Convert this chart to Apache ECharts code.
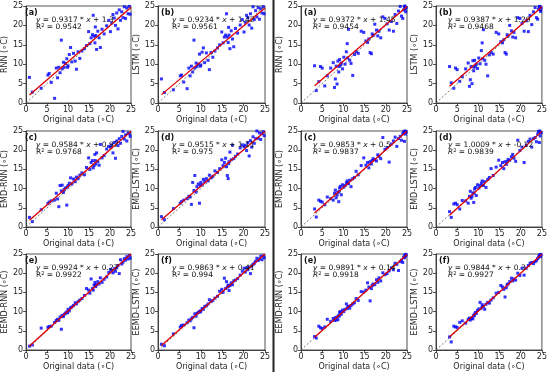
<!DOCTYPE html>
<html><head><meta charset="utf-8">
<script src="https://cdn.jsdelivr.net/npm/echarts/dist/echarts.min.js"></script>
<style>html,body{margin:0;padding:0;background:#fff}#c{width:550px;height:372px}</style>
</head><body><div id="c"></div><script>
// ---------- data ----------
const leftOriginal = [0.8,1.5,3.6,5.2,5.5,6.0,6.8,7.2,7.5,7.8,8.1,8.4,8.6,8.9,9.1,9.4,9.7,10.0,10.3,10.6,10.9,11.3,11.7,12.0,12.4,12.8,13.3,13.9,14.4,14.9,15.2,15.5,15.8,16.0,16.2,16.4,16.6,16.8,17.1,17.4,17.7,18.1,18.6,19.2,19.7,20.1,20.4,20.7,21.0,21.3,21.6,21.9,22.2,22.5,22.8,23.1,23.4,23.7,24.0,24.3,24.6,24.8,9.9,16.5];
const leftRNN = [6.6,2.8,3.8,7.2,7.6,5.3,1.2,9.0,6.5,9.2,7.8,16.2,8.8,10.5,9.2,10.2,11.4,9.6,12.5,14.3,10.6,12.8,10.8,8.7,13.2,11.5,13.4,14.0,14.8,18.4,15.3,16.8,17.6,22.6,17.2,15.5,17.4,13.8,18.5,16.8,14.3,19.0,17.8,19.9,21.3,18.4,20.6,22.8,21.9,20.0,23.2,19.1,24.0,21.3,23.5,22.0,24.8,21.8,24.5,23.0,24.9,22.9,9.2,19.6];
const leftLSTM = [6.2,2.7,3.4,7.0,7.2,5.4,3.7,9.0,7.0,9.5,8.0,16.2,9.0,10.3,9.4,10.0,12.6,9.8,13.1,14.2,10.4,12.9,11.0,8.6,13.0,11.8,13.4,14.2,15.0,18.3,15.5,17.0,17.5,23.0,17.0,15.6,17.5,14.0,18.6,16.5,14.5,19.2,18.0,20.1,21.5,18.3,20.8,22.6,22.0,20.1,23.0,19.3,24.8,21.5,23.8,22.2,24.6,21.6,24.3,23.2,24.8,23.0,9.5,19.5];
const leftEMDRNN = [2.5,1.4,4.5,6.1,6.5,6.8,7.0,8.8,7.3,5.3,10.8,9.4,10.9,9.0,9.8,10.2,5.7,10.8,11.4,12.8,11.2,12.5,11.8,13.0,12.6,13.5,14.1,13.6,15.5,18.0,15.0,16.8,17.3,15.4,16.0,18.9,16.4,19.3,17.0,16.1,21.5,18.0,18.6,20.3,21.0,20.8,21.4,19.3,22.0,17.9,22.4,21.2,23.0,21.8,23.6,24.9,22.9,24.0,22.4,24.5,24.3,23.6,10.4,17.3];
const leftEMDLSTM = [2.7,1.9,4.8,6.2,6.6,7.0,7.4,8.0,7.8,5.9,11.6,9.5,13.4,9.1,10.5,11.2,6.2,11.6,11.0,12.4,11.8,12.6,12.0,13.5,12.8,13.2,14.6,14.2,15.2,17.5,16.0,16.8,17.9,15.7,13.4,12.6,17.0,19.5,17.5,21.3,17.8,18.4,19.0,20.6,21.4,20.9,21.3,19.9,22.0,18.5,22.5,20.8,23.5,21.8,23.0,25.0,23.1,24.5,22.8,24.3,24.8,23.8,10.8,16.5];
const leftEEMDRNN = [1.0,1.3,5.7,5.9,6.1,6.2,7.2,7.7,8.0,7.7,8.6,5.4,9.0,8.7,9.3,9.6,9.9,10.6,10.2,11.0,11.2,11.6,12.3,12.0,12.6,13.0,13.4,14.2,16.0,15.6,14.8,18.5,16.0,15.6,16.9,17.6,16.5,17.0,17.8,17.2,18.8,17.6,18.4,19.0,20.2,21.0,20.6,20.1,21.2,20.5,21.4,22.0,19.9,23.5,22.4,22.9,23.8,23.4,24.3,23.7,24.6,23.9,9.7,16.9];
const leftEEMDLSTM = [1.5,1.1,4.2,6.0,6.4,6.5,7.1,7.8,7.6,8.1,8.5,5.8,9.4,8.8,9.5,9.8,10.0,10.2,10.8,10.6,11.3,11.5,12.0,13.1,12.6,12.9,13.5,14.0,15.3,15.8,15.0,18.7,16.0,17.8,16.4,16.9,15.5,16.8,17.5,17.0,18.0,18.2,18.6,19.5,20.5,21.3,20.3,21.4,20.9,21.6,19.9,21.8,22.3,22.6,23.1,23.9,23.3,23.7,24.4,23.5,24.5,24.0,9.9,16.6];

const rightOriginal = [3.2,3.6,4.2,4.6,5.0,5.6,6.2,7.0,7.6,7.9,8.1,8.3,8.5,8.7,8.9,9.1,9.3,9.5,9.8,10.1,10.4,10.7,10.9,11.2,11.5,11.8,12.2,12.6,13.0,13.5,14.2,14.8,15.3,15.7,16.0,16.3,16.6,17.0,17.4,17.8,18.1,18.4,18.8,19.3,19.8,20.3,20.8,21.3,21.8,22.2,22.6,23.0,23.4,23.7,24.0,24.2,24.4,24.5,24.6,24.7,24.8,9.0,11.0,16.8];
const rightRNN = [9.6,3.2,5.5,9.4,9.0,4.4,7.0,9.0,10.4,4.0,6.2,9.5,4.9,10.8,8.0,11.2,9.8,10.3,8.8,11.8,10.0,13.2,15.3,19.0,11.0,10.2,7.1,12.5,13.2,12.8,18.5,18.2,16.0,15.6,16.5,13.0,12.7,17.4,20.3,18.8,17.3,18.5,16.8,22.2,21.8,20.4,18.8,21.0,18.5,22.8,20.5,23.7,24.9,22.4,21.8,24.0,24.8,25.0,24.2,23.5,24.6,9.4,11.6,17.8];
const rightLSTM = [9.4,5.2,3.8,9.0,8.6,5.6,6.8,8.8,10.3,4.3,6.0,9.4,5.0,10.9,8.3,11.0,9.5,10.0,8.9,11.6,10.1,13.5,15.5,18.9,11.0,10.0,7.0,12.4,13.0,12.6,18.2,17.8,15.8,15.5,16.3,13.0,12.6,17.2,20.0,18.6,17.0,18.2,16.8,22.0,21.8,20.5,18.5,21.2,18.4,22.6,20.2,23.5,24.6,22.0,21.6,24.2,24.8,24.9,24.0,23.6,24.5,9.2,11.4,17.6];
const rightEMDRNN = [4.7,2.6,7.0,6.7,6.5,5.8,7.8,7.4,7.0,8.8,9.6,7.6,8.3,9.0,6.6,10.2,10.6,8.4,11.0,10.4,10.8,11.5,12.0,11.3,12.2,10.5,12.6,12.9,14.5,13.6,16.0,18.0,16.1,16.8,15.4,17.0,16.4,17.8,17.5,17.2,18.8,18.4,17.8,23.3,20.2,20.7,16.9,21.6,22.4,23.4,21.0,23.0,23.6,22.6,24.3,24.8,22.3,25.0,24.2,24.6,24.9,9.3,11.3,17.3];
const rightEMDLSTM = [4.0,2.5,6.0,6.2,5.8,4.7,6.9,6.8,6.2,8.0,9.3,7.5,8.0,8.8,6.4,9.9,10.3,8.2,11.0,10.2,10.8,11.4,12.0,10.9,11.8,10.3,12.4,12.9,15.2,13.4,15.6,17.4,16.0,16.8,15.2,17.0,16.3,17.6,17.4,18.3,18.9,17.9,17.1,22.6,19.9,20.8,16.8,21.3,22.3,22.9,20.8,23.0,23.3,22.2,24.2,24.9,22.0,25.0,23.7,24.5,24.6,8.9,10.8,17.0];
const rightEEMDRNN = [3.5,3.1,6.2,5.8,5.6,6.0,8.0,7.4,8.2,7.7,8.4,7.8,8.6,7.9,9.0,9.8,10.0,9.3,10.4,10.0,10.6,12.0,10.8,11.4,10.9,11.6,12.0,12.3,13.4,12.9,15.2,15.1,15.6,17.5,16.4,12.8,16.0,17.2,17.0,18.3,17.6,18.8,18.0,20.1,19.6,19.9,20.6,21.4,20.9,22.6,22.3,20.7,23.0,23.4,22.8,24.2,24.0,24.8,24.4,24.6,24.9,8.8,11.2,16.8];
const rightEEMDLSTM = [3.4,2.1,6.2,6.0,5.9,7.2,7.6,7.0,8.0,8.3,7.8,8.2,8.4,8.1,9.0,9.3,9.8,9.5,10.3,10.7,12.4,10.9,11.8,11.4,10.6,11.9,12.4,12.2,13.0,13.6,14.8,15.0,16.8,16.4,15.8,13.8,16.2,17.2,17.8,18.7,18.0,18.5,18.2,20.0,19.4,21.3,19.5,21.3,22.0,22.6,22.8,22.5,23.0,23.3,23.8,24.2,24.6,24.8,24.3,24.5,24.9,8.9,11.3,17.0];

const panelLetters = ['(a)','(b)','(c)','(d)','(e)','(f)','(a)','(b)','(c)','(d)','(e)','(f)'];
const modelNames = ['RNN','LSTM','EMD-RNN','EMD-LSTM','EEMD-RNN','EEMD-LSTM'];
const slopeText = ['0.9317','0.9234','0.9584','0.9515','0.9924','0.9863','0.9372','0.9387','0.9853','1.0009','0.9891','0.9844'];
const interceptText = ['1.3','1.42','0.97','1.11','0.27','0.41','1.45','1.29','0.5','-0.12','0.14','0.3'];
const r2Text = ['0.9542','0.9561','0.9768','0.975','0.9922','0.994','0.9454','0.9468','0.9837','0.9839','0.9918','0.9927'];
const axisTicks = [0, 25, 5]; // min, max, interval
const xAxisName = 'Original data (\u2218C)';

// ---------- layout ----------
const colLeft = [22, 158, 301, 436];
const colWidth = [109, 107, 106, 107];
const rowTop = [6, 131, 254];
const rowHeight = [97, 96, 96];
const FONT = 'DejaVu Sans';
const INK = '#262626';

const leftY = [leftRNN, leftLSTM, leftEMDRNN, leftEMDLSTM, leftEEMDRNN, leftEEMDLSTM];
const rightY = [rightRNN, rightLSTM, rightEMDRNN, rightEMDLSTM, rightEEMDRNN, rightEEMDLSTM];

const grids = [], xAxes = [], yAxes = [], series = [], graphics = [];
for (let i = 0; i < 12; i++) {
  const grp = i < 6 ? 0 : 1;
  const k = i % 6;
  const row = Math.floor(k / 2), col = k % 2;
  const gl = colLeft[grp * 2 + col], gw = colWidth[grp * 2 + col];
  const gt = rowTop[row], gh = rowHeight[row];
  const xs = grp === 0 ? leftOriginal : rightOriginal;
  const ys = grp === 0 ? leftY[k] : rightY[k];
  grids.push({left: gl, top: gt, width: gw, height: gh, show: true, borderColor: INK, borderWidth: 0.8});
  const axCommon = {
    gridIndex: i, type: 'value', min: axisTicks[0], max: axisTicks[1], interval: axisTicks[2],
    nameLocation: 'middle',
    nameTextStyle: {fontSize: 8, color: INK, fontFamily: FONT},
    axisLine: {show: true, onZero: false, lineStyle: {color: INK, width: 0.8}},
    axisTick: {show: true, length: 3, lineStyle: {color: INK, width: 0.8}},
    axisLabel: {fontSize: 8, color: INK, margin: 3, fontFamily: FONT},
    splitLine: {show: false}
  };
  xAxes.push(Object.assign({}, axCommon, {name: xAxisName, nameGap: 13}));
  yAxes.push(Object.assign({}, axCommon, {name: modelNames[k] + ' (\u2218C)', nameGap: 12, nameRotate: 90}));
  series.push({
    type: 'scatter', xAxisIndex: i, yAxisIndex: i, symbol: 'rect', symbolSize: 3,
    itemStyle: {color: '#0000ff'}, data: xs.map((x, j) => [x, ys[j]]), z: 2
  });
  series.push({
    type: 'line', xAxisIndex: i, yAxisIndex: i, showSymbol: false, symbol: 'none',
    lineStyle: {color: '#555', width: 0.8, type: [2, 2]},
    data: [[axisTicks[0], axisTicks[0]], [axisTicks[1], axisTicks[1]]], z: 3
  });
  const a = parseFloat(slopeText[i]), b = parseFloat(interceptText[i]);
  const xmin = Math.min.apply(null, xs), xmax = axisTicks[1];
  series.push({
    type: 'line', xAxisIndex: i, yAxisIndex: i, showSymbol: false, symbol: 'none',
    lineStyle: {color: '#e00000', width: 1.3},
    data: [[xmin, a * xmin + b], [xmax, Math.min(axisTicks[1], a * xmax + b)]], z: 4
  });
  graphics.push({type: 'text', left: gl + 3, top: gt + 3, z: 10,
    style: {text: panelLetters[i], font: 'bold 8px "DejaVu Sans"', fill: '#111'}});
  graphics.push({type: 'text', left: gl + (grp === 0 ? 14 : 12), top: gt + 10, z: 10,
    style: {text: '{i|y} = ' + slopeText[i] + ' * {i|x} + ' + interceptText[i],
      font: '7.5px "DejaVu Sans"', fill: '#111',
      rich: {i: {fontStyle: 'italic', fontSize: 7.5, fontFamily: FONT, fill: '#111'}}}});
  graphics.push({type: 'text', left: gl + (grp === 0 ? 14 : 12), top: gt + 17, z: 10,
    style: {text: (grp === 0 ? 'R' : '{i|R}') + '{s|2} = ' + r2Text[i],
      font: '7.5px "DejaVu Sans"', fill: '#111',
      rich: {i: {fontStyle: 'italic', fontSize: 7.5, fontFamily: FONT, fill: '#111'},
             s: {fontSize: 5, fontFamily: FONT, fill: '#111', verticalAlign: 'top', padding: [0, 0, 3, 0]}}}});
}
graphics.push({type: 'line', shape: {x1: 273.5, y1: 0, x2: 273.5, y2: 372}, style: {stroke: '#222', lineWidth: 2}, z: 10});

const chart = echarts.init(document.getElementById('c'), null, {renderer: 'canvas'});
chart.setOption({
  animation: false,
  backgroundColor: '#fff',
  textStyle: {fontFamily: FONT},
  grid: grids, xAxis: xAxes, yAxis: yAxes, series: series, graphic: graphics
});
</script></body></html>
